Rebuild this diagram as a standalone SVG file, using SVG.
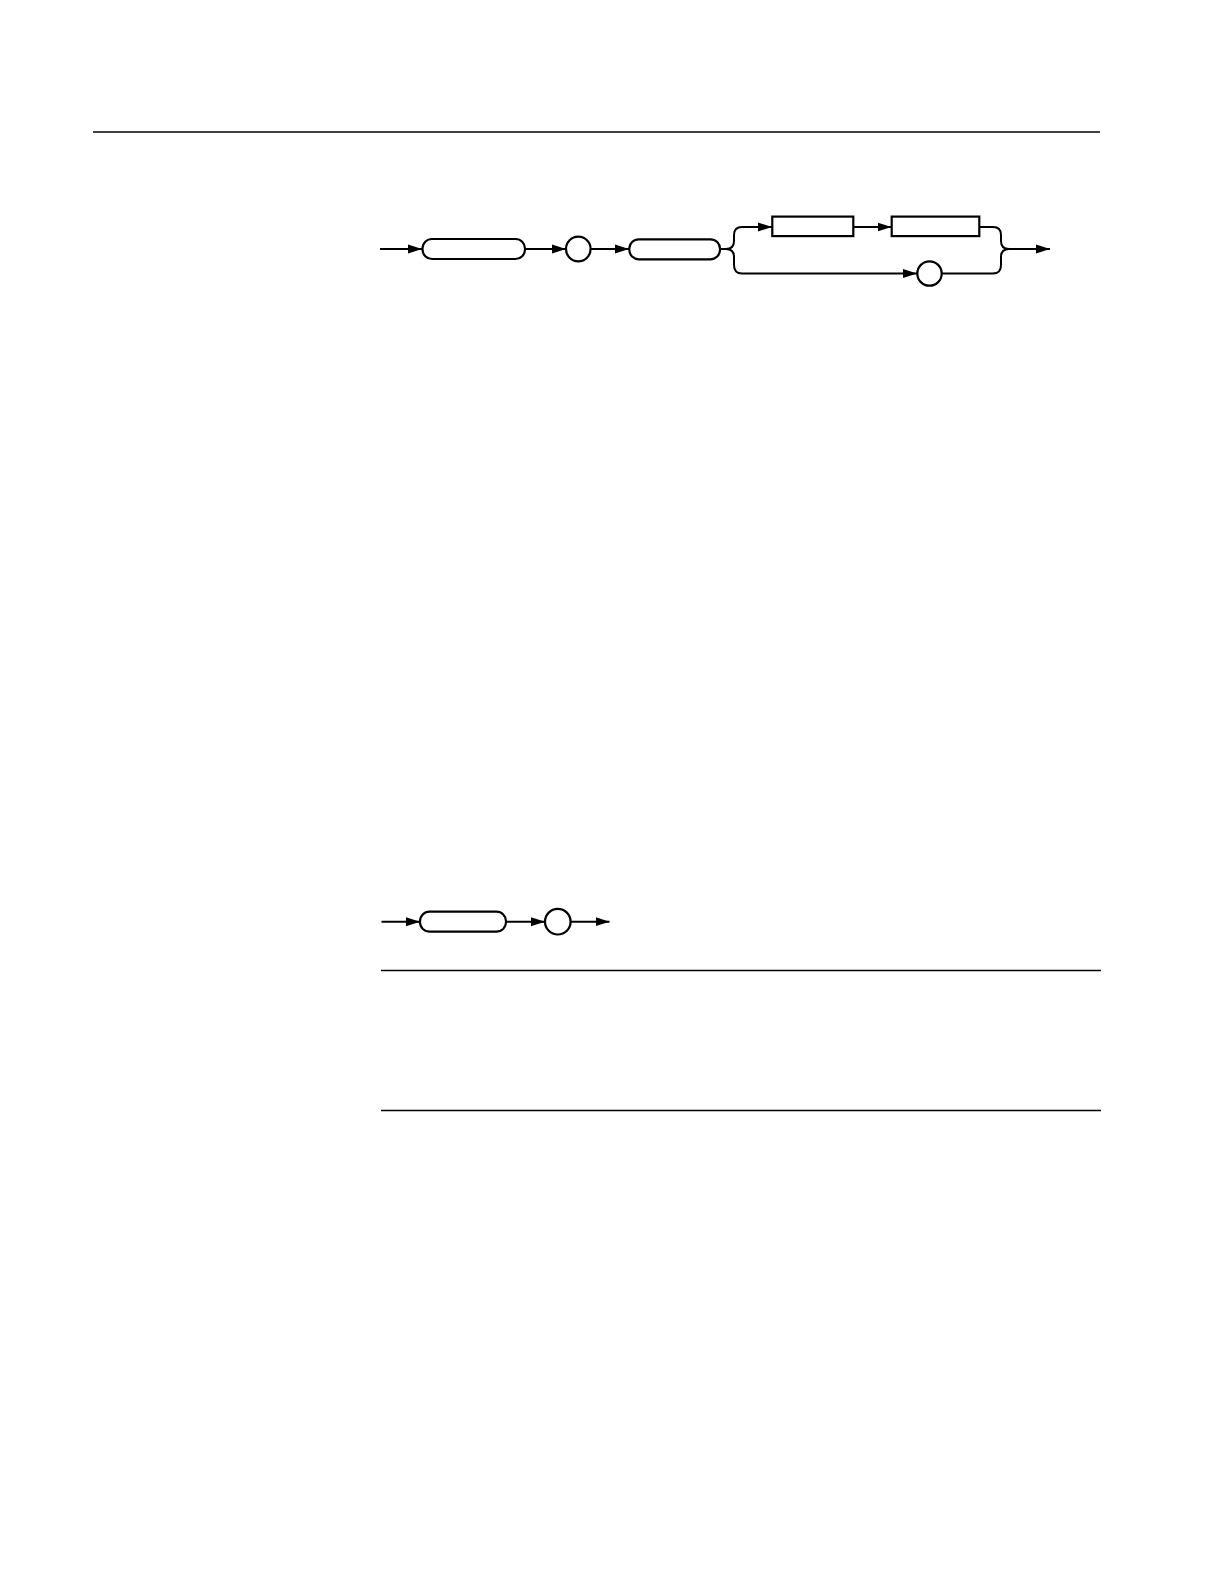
<svg xmlns="http://www.w3.org/2000/svg" width="1224" height="1584" viewBox="0 0 1224 1584">
<style>
.n{fill:#fff;stroke:#000;stroke-width:2.2}
.c{fill:none;stroke:#000;stroke-width:2}
.r{stroke:#000;stroke-width:1.6}
</style>
<defs>
<marker id="ah" markerUnits="userSpaceOnUse" markerWidth="15" markerHeight="12" refX="14" refY="6" orient="auto">
<path d="M0,1.5 L14,6 L0,10.5 Z" fill="#000"/>
</marker>
</defs>
<rect width="1224" height="1584" fill="#fff"/>
<g id="rules">
<line class="r" x1="93" y1="132" x2="1100" y2="132"/>
<line class="r" x1="381" y1="970.5" x2="1101" y2="970.5"/>
<line class="r" x1="381" y1="1110.5" x2="1101" y2="1110.5"/>
</g>
<g id="connectors">
<line class="c" x1="380" y1="249" x2="422" y2="249" marker-end="url(#ah)"/>
<line class="c" x1="525" y1="249" x2="566" y2="249" marker-end="url(#ah)"/>
<line class="c" x1="590.6" y1="249" x2="629" y2="249" marker-end="url(#ah)"/>
<path class="c" d="M720,249 L726,249 Q734,249 734,241 L734,235 Q734,227 742,227 L772,227" marker-end="url(#ah)"/>
<path class="c" d="M726,249 Q734,249 734,257 L734,265 Q734,273.5 742,273.5 L917,273.5" marker-end="url(#ah)"/>
<line class="c" x1="853.3" y1="227" x2="891.5" y2="227" marker-end="url(#ah)"/>
<path class="c" d="M979.3,227 L993,227 Q1001,227 1001,235 L1001,241 Q1001,249 1009,249"/>
<path class="c" d="M941.7,273.5 L993,273.5 Q1001,273.5 1001,265 L1001,257 Q1001,249 1009,249 L1050,249" marker-end="url(#ah)"/>
<line class="c" x1="381.5" y1="921.7" x2="420" y2="921.7" marker-end="url(#ah)"/>
<line class="c" x1="506" y1="921.7" x2="545" y2="921.7" marker-end="url(#ah)"/>
<line class="c" x1="570.6" y1="921.7" x2="609.5" y2="921.7" marker-end="url(#ah)"/>
</g>
<g id="node1"><rect class="n" x="422.5" y="239" width="102.5" height="20" rx="9.5"/></g>
<g id="node2"><circle class="n" cx="578.3" cy="249" r="12.3"/></g>
<g id="node3"><rect class="n" x="629.3" y="239.3" width="90.7" height="20" rx="9.5"/></g>
<g id="node4"><rect class="n" x="772.3" y="216.6" width="81" height="19.5"/></g>
<g id="node5"><rect class="n" x="891.7" y="216.6" width="87.6" height="19.5"/></g>
<g id="node6"><circle class="n" cx="929.5" cy="273.5" r="12.2"/></g>
<g id="node7"><rect class="n" x="420" y="911.7" width="86" height="20" rx="9.5"/></g>
<g id="node8"><circle class="n" cx="557.8" cy="921.7" r="12.8"/></g>
</svg>
